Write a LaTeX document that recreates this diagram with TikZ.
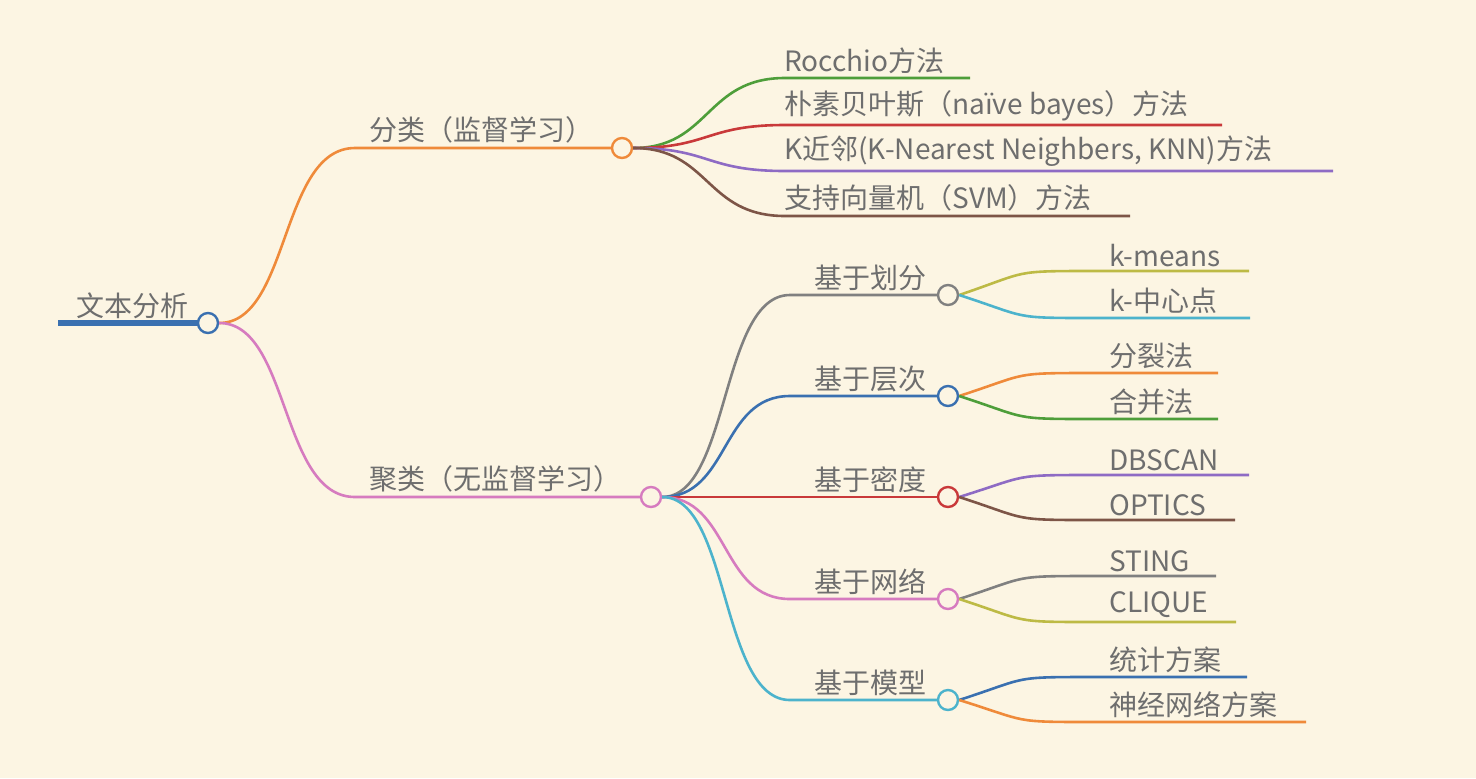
\documentclass[tikz,border=0pt]{standalone}
\usepackage{fontspec}
\setmainfont{Noto Sans CJK SC}
\definecolor{bgc}{HTML}{FCF5E3}
\definecolor{txt}{HTML}{6E6E6E}
\definecolor{cblue}{HTML}{3A70B0}
\definecolor{corange}{HTML}{EF8A3A}
\definecolor{cpink}{HTML}{D67BBF}
\definecolor{cgreen}{HTML}{4E9E3A}
\definecolor{cred}{HTML}{C9393A}
\definecolor{cpurple}{HTML}{8E6BC4}
\definecolor{cbrown}{HTML}{7D5547}
\definecolor{cgray}{HTML}{808080}
\definecolor{ccyan}{HTML}{4CB3CC}
\definecolor{colive}{HTML}{BDBA45}
\begin{document}
\begin{tikzpicture}[x=0.5pt,y=-0.5pt,
  circ/.style={circle,draw=#1,fill=bgc,line width=1.2pt,minimum size=10pt,inner sep=0pt},
  lbl/.style={anchor=south west,text=txt,inner sep=2pt,font=\fontsize{14}{16}\selectfont},
  br/.style={draw=#1,line width=1.3pt}]
\fill[bgc] (0,0) rectangle (1476,778);
\useasboundingbox (0,0) rectangle (1476,778);
% root
\coordinate (r0) at (58,323);
\draw[cblue,line width=3pt] (r0) -- (198,323);
\node[lbl] (rt) at (72,323) {文本分析};
\node[circ=cblue] (r) at (208,323) {};
% main branches
\node[circ=corange] (a) at (622,148) {};
\node[circ=cpink] (b) at (651,497) {};
\draw[br=corange] (r.east) .. controls (290,323) and (280,148) .. (355,148) -- (a.west);
\node[lbl] at (365,148) {分类（监督学习）};
\draw[br=cpink] (r.east) .. controls (290,323) and (280,497) .. (355,497) -- (b.west);
\node[lbl] at (365,497) {聚类（无监督学习）};
% leaves of a
\foreach \y/\e/\c/\t [count=\i] in {78/970/cgreen/{Rocchio方法},125/1222/cred/{朴素贝叶斯（naïve bayes）方法},171/1333/cpurple/{K近邻(K-Nearest Neighbers, KNN)方法},216/1130/cbrown/{支持向量机（SVM）方法}}{
  \coordinate (ae\i) at (\e,\y);
  \draw[br=\c] (a.east) .. controls (710,148) and (705,\y) .. (785,\y) -- (ae\i);
  \node[lbl] (at\i) at (780,\y) {\t};
}
% children of b
\foreach \y/\c/\t [count=\i] in {295/cgray/基于划分,396/cblue/基于层次,497/cred/基于密度,599/cpink/基于网络,700/ccyan/基于模型}{
  \node[circ=\c] (b\i) at (948,\y) {};
  \draw[br=\c] (b.east) .. controls (730,497) and (720,\y) .. (790,\y) -- (b\i.west);
  \node[lbl] (bt\i) at (810,\y) {\t};
}
% grandchildren
\foreach \p/\y/\e/\c/\t [count=\i] in {1/271/1249/colive/{k-means},1/318/1250/ccyan/{k-中心点},2/373/1218/corange/{分裂法},2/419/1218/cgreen/{合并法},3/475/1249/cpurple/{DBSCAN},3/520/1235/cbrown/{OPTICS},4/576/1216/cgray/{STING},4/622/1236/colive/{CLIQUE},5/677/1247/cblue/{统计方案},5/722/1306/corange/{神经网络方案}}{
  \coordinate (ge\i) at (\e,\y);
  \draw[br=\c] (b\p.east) .. controls (1030,\y+0) and (1010,\y) .. (1095,\y) -- (ge\i);
  \node[lbl] (gt\i) at (1105,\y) {\t};
}
% redraw grandchild curves properly from circle y
\end{tikzpicture}
\end{document}
